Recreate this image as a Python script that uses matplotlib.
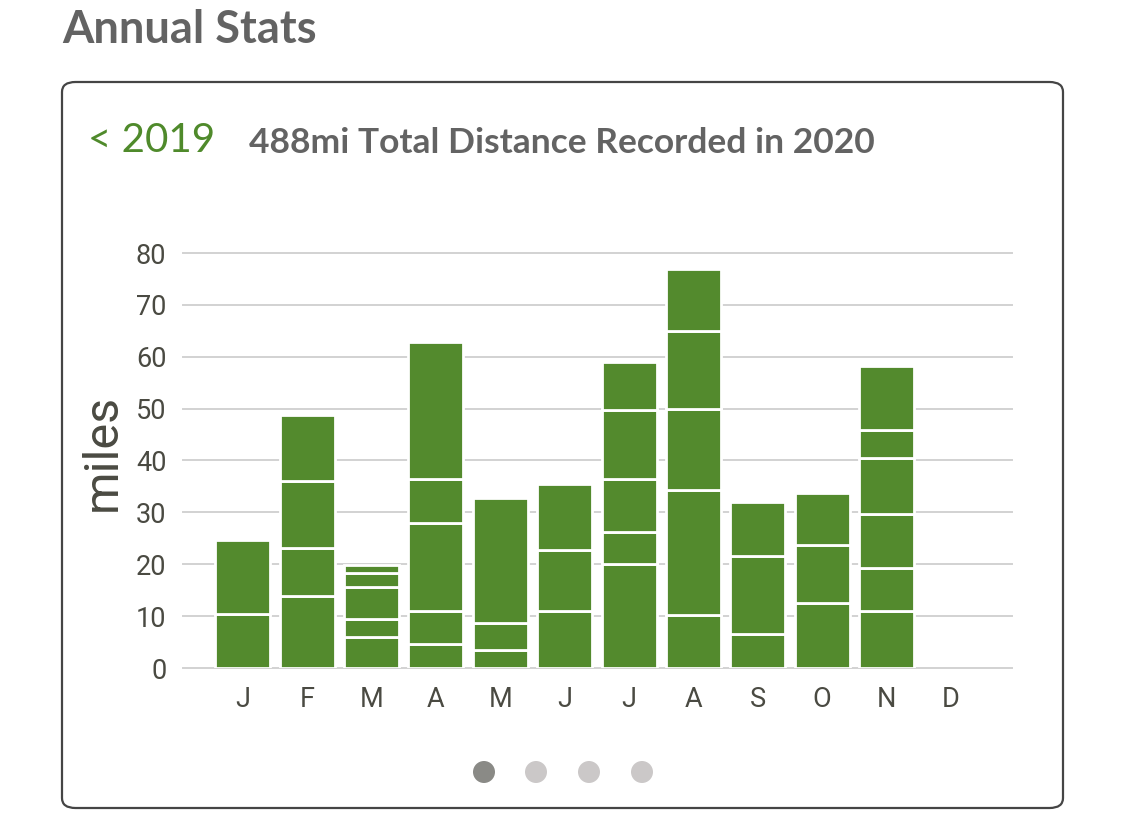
import matplotlib
matplotlib.use("Agg")
import matplotlib.pyplot as plt
from matplotlib.patches import FancyBboxPatch, Ellipse
import numpy as np

months = ["J", "F", "M", "A", "M", "J", "J", "A", "S", "O", "N", "D"]
level1 = [10.4, 13.8, 6.0, 4.6, 3.5, 10.9, 20.1, 10.2, 6.5, 12.5, 10.9, 0]
level2 = [14.2, 9.4, 3.5, 6.3, 5.1, 11.9, 6.2, 24.1, 15.0, 11.3, 8.4, 0]
level3 = [0, 12.9, 6.2, 17.0, 24.2, 12.7, 10.1, 15.6, 10.5, 10.0, 10.3, 0]
level4 = [0, 12.6, 2.7, 8.5, 0, 0, 13.4, 15.1, 0, 0, 10.9, 0]
level5 = [0, 0, 1.5, 26.5, 0, 0, 9.1, 11.9, 0, 0, 5.3, 0]
level6 = [0, 0, 0, 0, 0, 0, 0, 0, 0, 0, 12.5, 0]
yticks = [0, 10, 20, 30, 40, 50, 60, 70, 80]

plt.rcParams['font.family'] = ['Lato', 'DejaVu Sans']

W, H = 1125, 830
fig = plt.figure(figsize=(W / 100, H / 100), dpi=100)
fig.patch.set_facecolor("white")

# card border
card = FancyBboxPatch((62 / W, (H - 808) / H), (1063 - 62) / W, (808 - 82) / H,
                      boxstyle="round,pad=0,rounding_size=0.012",
                      transform=fig.transFigure, facecolor="white",
                      edgecolor="#454545", linewidth=1.6, zorder=-5)
fig.patches.append(card)

fig.text(62 / W, 1 - 30 / H, "Annual Stats", fontsize=32.5, fontweight="bold",
         color="#636363", va="center", ha="left")
fig.text(88 / W, 1 - 141 / H, "< 2019", fontsize=29, fontweight="normal",
         color="#4f8a2b", va="center", ha="left")
fig.text(249 / W, 1 - 143 / H, "488mi Total Distance Recorded in 2020", fontsize=25.5,
         fontweight="bold", color="#636363", va="center", ha="left")

tick_color = "#4a4a42"
ax = fig.add_axes([183 / W, (H - 668) / H, (1012 - 183) / W, (668 - 253) / H], zorder=2)
x = np.arange(len(months))
bottom = np.zeros(len(months))
bar_color = "#538a2d"
for lvl in [level1, level2, level3, level4, level5, level6]:
    vals = np.array(lvl, dtype=float)
    mask = vals > 0
    ax.bar(x[mask], vals[mask], bottom=bottom[mask], width=0.855,
           color=bar_color, edgecolor="white", linewidth=2.0, zorder=3)
    bottom += vals

ax.set_xlim(-0.93, 11.95)
ax.set_ylim(0, 80)
ax.set_yticks(yticks)
ax.set_yticklabels([str(v) for v in yticks], family=["Roboto", "DejaVu Sans"])
ax.set_xticks(x)
ax.set_xticklabels(months, family=["Roboto", "DejaVu Sans"])
ax.yaxis.grid(True, color="#d2d2d2", linewidth=1.4, zorder=0)
ax.set_axisbelow(True)
for s in ax.spines.values():
    s.set_visible(False)
ax.tick_params(axis="both", length=0, labelsize=19.5, labelcolor=tick_color)
ax.tick_params(axis="y", pad=12)
ax.tick_params(axis="x", pad=13)
for gl in ax.get_ygridlines():
    gl.set_clip_on(False)
ax.set_ylabel("miles", fontsize=35, color=tick_color,
              family=["Roboto", "DejaVu Sans"])
ax.yaxis.set_label_coords((126 - 183) / (1012 - 183), (668 - 452) / (668 - 253))
ax.set_facecolor("none")

# pager dots
dot_cols = ["#8a8a86", "#cbc8c8", "#cbc8c8", "#cbc8c8"]
for cx, col in zip([484, 536, 589, 642], dot_cols):
    fig.patches.append(Ellipse((cx / W, 1 - 772 / H), 22 / W, 22 / H,
                               transform=fig.transFigure,
                               facecolor=col, edgecolor="none"))

fig.savefig("out.png", dpi=100, facecolor="white")
